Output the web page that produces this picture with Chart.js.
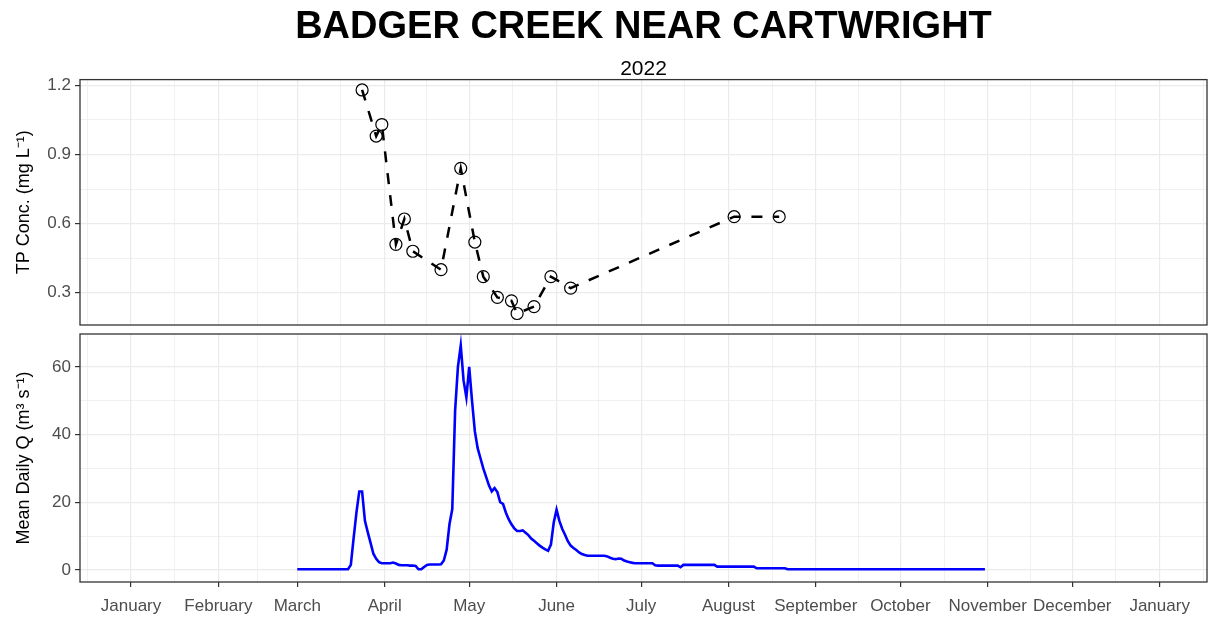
<!DOCTYPE html>
<html>
<head>
<meta charset="utf-8">
<script src="https://cdn.jsdelivr.net/npm/chart.js@4"></script>
<style>
  body { margin: 0; background: #fff; }
  #wrap { position: relative; width: 1209px; height: 618px; background: #fff; }
  canvas { position: absolute; left: 0; }
  #tp { top: 0; }
  #flow { top: 330px; }
</style>
</head>
<body>
<div id="wrap">
  <canvas id="tp" width="1209" height="330"></canvas>
  <canvas id="flow" width="1209" height="288"></canvas>
</div>
<script>
// TP samples (mg/L)
var tpDates = ['2022-03-24', '2022-03-29', '2022-03-31', '2022-04-05', '2022-04-08', '2022-04-11',
  '2022-04-21', '2022-04-28', '2022-05-03', '2022-05-06', '2022-05-11', '2022-05-16',
  '2022-05-18', '2022-05-24', '2022-05-30', '2022-06-06', '2022-08-03', '2022-08-19'];
var tpValues = [1.18, 0.98, 1.03, 0.51, 0.62, 0.48,
  0.40, 0.84, 0.52, 0.37, 0.28, 0.265,
  0.21, 0.24, 0.37, 0.32, 0.63, 0.63];

// mean daily flow (m3/s), one value per day from flowStart
var flowStart = '2022-03-01';
var flowValues = [
  // March
  0.2, 0.2, 0.2, 0.2, 0.2, 0.2, 0.2, 0.2, 0.2, 0.2, 0.2, 0.2, 0.2, 0.2, 0.2, 0.2, 0.2, 0.2, 0.2,
  1.5, 9.5, 17.0, 23.2, 23.2, 14.5, 11.2, 8.0, 4.8, 3.3, 2.3, 2.0,
  // April
  2.0, 2.0, 2.0, 2.2, 1.9, 1.5, 1.4, 1.4, 1.4, 1.3, 1.3, 1.2, 0.2, 0.2, 0.9,
  1.5, 1.6, 1.6, 1.6, 1.6, 1.7, 2.8, 6.0, 13.5, 18.0, 47.0, 60.0, 66.3, 56.0, 51.0,
  // May
  60.0, 50.0, 41.0, 36.0, 33.0, 30.0, 27.5, 25.0, 23.2, 24.2,
  23.0, 20.0, 19.5, 17.0, 15.0, 13.5, 12.3, 11.5, 11.5, 11.7,
  11.0, 10.3, 9.3, 8.6, 7.9, 7.2, 6.6, 6.1, 5.7, 7.5, 14.0,
  // June
  17.8, 14.5, 12.2, 10.4, 8.5, 7.2, 6.5, 5.9, 5.2, 4.7,
  4.4, 4.2, 4.2, 4.2, 4.2, 4.2, 4.2, 4.2, 4.0, 3.6,
  3.3, 3.2, 3.4, 3.3, 2.8, 2.5, 2.3, 2.1, 2.0, 2.0,
  // July
  2.0, 2.0, 2.0, 2.0, 2.0, 1.4, 1.3, 1.3, 1.3, 1.3, 1.3, 1.3, 1.3, 1.3, 0.8,
  1.5, 1.5, 1.5, 1.5, 1.5, 1.5, 1.5, 1.5, 1.5, 1.5, 1.5, 1.5, 1.0, 1.0, 1.0, 1.0,
  // August
  1.0, 1.0, 1.0, 1.0, 1.0, 1.0, 1.0, 1.0, 1.0, 1.0,
  0.5, 0.5, 0.5, 0.5, 0.5, 0.5, 0.5, 0.5, 0.5, 0.5, 0.5,
  0.2, 0.2, 0.2, 0.2, 0.2, 0.2, 0.2, 0.2, 0.2, 0.2,
  // September
  0.2, 0.2, 0.2, 0.2, 0.2, 0.2, 0.2, 0.2, 0.2, 0.2, 0.2, 0.2, 0.2, 0.2, 0.2,
  0.2, 0.2, 0.2, 0.2, 0.2, 0.2, 0.2, 0.2, 0.2, 0.2, 0.2, 0.2, 0.2, 0.2, 0.2,
  // October
  0.2, 0.2, 0.2, 0.2, 0.2, 0.2, 0.2, 0.2, 0.2, 0.2, 0.2, 0.2, 0.2, 0.2, 0.2, 0.2,
  0.2, 0.2, 0.2, 0.2, 0.2, 0.2, 0.2, 0.2, 0.2, 0.2, 0.2, 0.2, 0.2, 0.2, 0.2
];

var monthTicks = ['2022-01-01', '2022-02-01', '2022-03-01', '2022-04-01', '2022-05-01', '2022-06-01',
  '2022-07-01', '2022-08-01', '2022-09-01', '2022-10-01', '2022-11-01', '2022-12-01', '2023-01-01'];
var monthNames = ['January', 'February', 'March', 'April', 'May', 'June', 'July',
  'August', 'September', 'October', 'November', 'December', 'January'];
var tpTicks = [0.3, 0.6, 0.9, 1.2];
var flowTicks = [0, 20, 40, 60];

var FONT = '"Liberation Sans", Arial, sans-serif';
var X_MIN = -18.1, X_MAX = 381.8;

function dayOf(s) {
  var p = s.split('-');
  return (Date.UTC(+p[0], p[1] - 1, +p[2]) - Date.UTC(2022, 0, 1)) / 86400000;
}

var xMajor = monthTicks.map(dayOf);

// midpoints between major breaks, plus one half-step beyond each end
function minorsOf(major) {
  var out = [];
  out.push(major[0] - (major[1] - major[0]) / 2);
  for (var i = 0; i < major.length - 1; i++) out.push((major[i] + major[i + 1]) / 2);
  var n = major.length;
  out.push(major[n - 1] + (major[n - 1] - major[n - 2]) / 2);
  return out;
}

function isMajor(list, v) {
  for (var i = 0; i < list.length; i++) if (Math.abs(list[i] - v) < 1e-6) return true;
  return false;
}

function setTicks(major) {
  var minor = minorsOf(major);
  return function (scale) {
    var all = major.concat(minor).filter(function (v) { return v >= scale.min && v <= scale.max; });
    all.sort(function (a, b) { return a - b; });
    scale.ticks = all.map(function (v) { return { value: v }; });
  };
}

function gridFor(major, showTicks) {
  return {
    color: '#ebebeb',
    lineWidth: function (c) { return c.tick && isMajor(major, c.tick.value) ? 1.2 : 0.7; },
    drawTicks: showTicks,
    tickLength: 5,
    tickWidth: 1.2,
    tickColor: function (c) { return c.tick && isMajor(major, c.tick.value) ? '#333333' : 'rgba(0,0,0,0)'; }
  };
}

function fitX(h) {
  return function (s) { s.height = h; s.paddingLeft = 0; s.paddingRight = 0; };
}
function fitY(s) { s.width = 80; s.paddingTop = 0; s.paddingBottom = 0; }

var framePlugin = {
  id: 'frame',
  afterDraw: function (chart) {
    var a = chart.chartArea, c = chart.ctx;
    c.save();
    c.strokeStyle = '#333333';
    c.lineWidth = 1.3;
    c.strokeRect(a.left, a.top, a.right - a.left, a.bottom - a.top);
    c.restore();
  }
};

var tpPoints = [];
for (var i = 0; i < tpDates.length; i++) {
  tpPoints.push({ x: dayOf(tpDates[i]), y: tpValues[i] });
}
var flowPoints = [];
var d0 = dayOf(flowStart);
for (var j = 0; j < flowValues.length; j++) {
  flowPoints.push({ x: d0 + j, y: flowValues[j] });
}

new Chart(document.getElementById('tp'), {
  type: 'line',
  data: {
    datasets: [{
      data: tpPoints,
      borderColor: '#000000',
      borderWidth: 2.5,
      borderDash: [11, 11],
      pointRadius: 6,
      pointBorderWidth: 1.2,
      pointBorderColor: '#000000',
      pointBackgroundColor: 'rgba(0,0,0,0)',
      fill: false,
      tension: 0
    }]
  },
  options: {
    responsive: false,
    animation: false,
    events: [],
    layout: { autoPadding: false, padding: { left: 0, right: 2, top: 0, bottom: 0 } },
    plugins: {
      legend: { display: false },
      tooltip: { enabled: false },
      title: {
        display: true, text: 'BADGER CREEK NEAR CARTWRIGHT', fullSize: false, color: '#000000',
        font: { family: FONT, size: 38, weight: 'bold', lineHeight: 1.2 },
        padding: { top: 5, bottom: 0 }
      },
      subtitle: {
        display: true, text: '2022', fullSize: false, color: '#000000',
        font: { family: FONT, size: 21, lineHeight: 1 },
        padding: { top: 8, bottom: 0 }
      }
    },
    scales: {
      x: {
        type: 'linear', min: X_MIN, max: X_MAX,
        afterBuildTicks: setTicks(xMajor),
        afterFit: fitX(5),
        ticks: { display: false, autoSkip: false },
        grid: gridFor(xMajor, false),
        border: { display: false }
      },
      y: {
        type: 'linear', min: 0.16, max: 1.225,
        afterBuildTicks: setTicks(tpTicks),
        afterFit: fitY,
        ticks: {
          autoSkip: false, padding: 4, color: '#4d4d4d',
          font: { family: FONT, size: 17 },
          callback: function (v) { return isMajor(tpTicks, v) ? v.toFixed(1) : ''; }
        },
        grid: gridFor(tpTicks, true),
        border: { display: false },
        title: {
          display: true, text: 'TP Conc. (mg L\u207B\u00B9)', color: '#000000',
          font: { family: FONT, size: 18 }, padding: { top: 13, bottom: 0 }
        }
      }
    }
  },
  plugins: [framePlugin]
});

new Chart(document.getElementById('flow'), {
  type: 'line',
  data: {
    datasets: [{
      data: flowPoints,
      borderColor: '#0000ff',
      borderWidth: 2.6,
      pointRadius: 0,
      fill: false,
      tension: 0
    }]
  },
  options: {
    responsive: false,
    animation: false,
    events: [],
    layout: { autoPadding: false, padding: { left: 0, right: 2, top: 4, bottom: 0 } },
    plugins: { legend: { display: false }, tooltip: { enabled: false } },
    scales: {
      x: {
        type: 'linear', min: X_MIN, max: X_MAX,
        afterBuildTicks: setTicks(xMajor),
        afterFit: fitX(36),
        ticks: {
          autoSkip: false, maxRotation: 0, minRotation: 0, padding: 9, color: '#4d4d4d',
          font: { family: FONT, size: 17 },
          callback: function (v) {
            for (var k = 0; k < xMajor.length; k++) if (Math.abs(xMajor[k] - v) < 1e-6) return monthNames[k];
            return '';
          }
        },
        grid: gridFor(xMajor, true),
        border: { display: false }
      },
      y: {
        type: 'linear', min: -3.55, max: 69.7,
        afterBuildTicks: setTicks(flowTicks),
        afterFit: fitY,
        ticks: {
          autoSkip: false, padding: 4, color: '#4d4d4d',
          font: { family: FONT, size: 17 },
          callback: function (v) { return isMajor(flowTicks, v) ? String(v) : ''; }
        },
        grid: gridFor(flowTicks, true),
        border: { display: false },
        title: {
          display: true, text: 'Mean Daily Q (m\u00B3 s\u207B\u00B9)', color: '#000000',
          font: { family: FONT, size: 18 }, padding: { top: 13, bottom: 0 }
        }
      }
    }
  },
  plugins: [framePlugin]
});
</script>
</body>
</html>
